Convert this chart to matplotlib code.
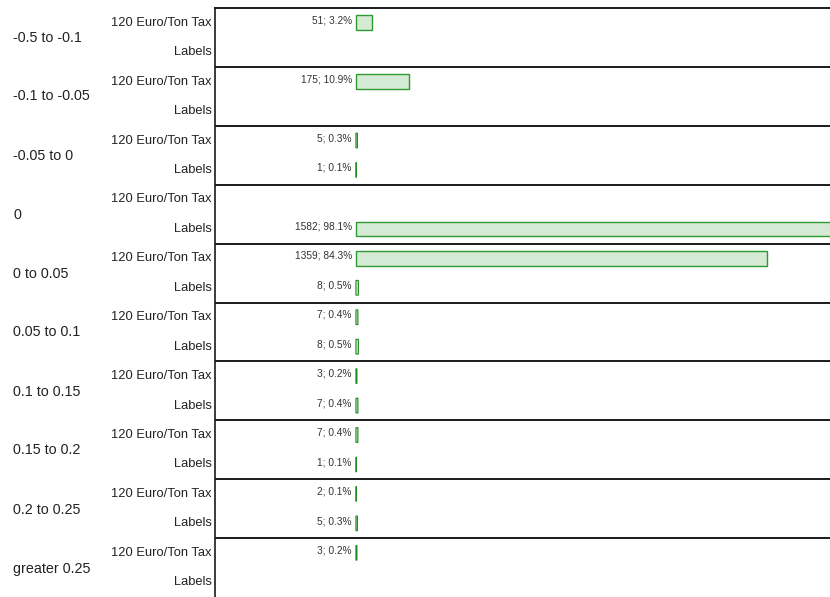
import matplotlib.pyplot as plt

plt.rcParams['font.family'] = ['Liberation Sans', 'DejaVu Sans']

# data (count; percent), None = no bar
groups = ['-0.5 to -0.1', '-0.1 to -0.05', '-0.05 to 0', '0', '0 to 0.05',
          '0.05 to 0.1', '0.1 to 0.15', '0.15 to 0.2', '0.2 to 0.25', 'greater 0.25']
rows = ['120 Euro/Ton Tax', 'Labels']
tax_counts = [51, 175, 5, None, 1359, 7, 3, 7, 2, 3]
tax_pct = [3.2, 10.9, 0.3, None, 84.3, 0.4, 0.2, 0.4, 0.1, 0.2]
label_counts = [None, None, 1, 1582, 8, 8, 7, 1, 5, None]
label_pct = [None, None, 0.1, 98.1, 0.5, 0.5, 0.4, 0.1, 0.3, None]

fig = plt.figure(figsize=(8.3, 5.97), dpi=100)
ax = fig.add_axes([215 / 830, 0, 1 - 215 / 830, 1 - 8 / 597])

series = [(tax_counts, tax_pct), (label_counts, label_pct)]
for gi, g in enumerate(groups):
    for ri, (counts, pcts) in enumerate(series):
        y = gi + 0.25 + 0.5 * ri
        # row label on the left of the axis
        ax.text(-0.005, y, rows[ri], transform=ax.get_yaxis_transform(),
                ha='right', va='center', fontsize=9.3, color='#222222')
        if pcts[gi] is None:
            continue
        bars = ax.barh(y, pcts[gi], height=0.25, left=0, color='#d5ead5',
                       edgecolor='#2e9a2e', linewidth=1.0)
        if pcts[gi] < 1:
            # tiny bars: let the edge show as a solid line
            for b in bars:
                b.set_snap(False)
                b.set_edgecolor('#1f8a1f')
                b.set_linewidth(0.8)
        ax.annotate(f'{counts[gi]}; {pcts[gi]}%', (0, y - 0.125),
                    xytext=(-3, 0), textcoords='offset points',
                    ha='right', va='top', fontsize=7.3, color='#333333')
    # group label in the far left column
    fig.text(13 / 830, 1 - (8 + 59 * (gi + 0.5)) / 597, g,
             ha='left', va='center', fontsize=10.3, color='#222222')
    if gi > 0:
        ax.axhline(gi, color='#1a1a1a', lw=1.4)

ax.set_xlim(-28.9, 97.2)
ax.set_ylim(10, 0)
ax.set_xticks([])
ax.set_yticks([])
for s in ['right', 'bottom']:
    ax.spines[s].set_visible(False)
ax.spines['top'].set_linewidth(1.4)
ax.spines['left'].set_linewidth(1.2)
ax.spines['top'].set_color('#1a1a1a')
ax.spines['left'].set_color('#1a1a1a')

fig.savefig('out.png', dpi=100)
